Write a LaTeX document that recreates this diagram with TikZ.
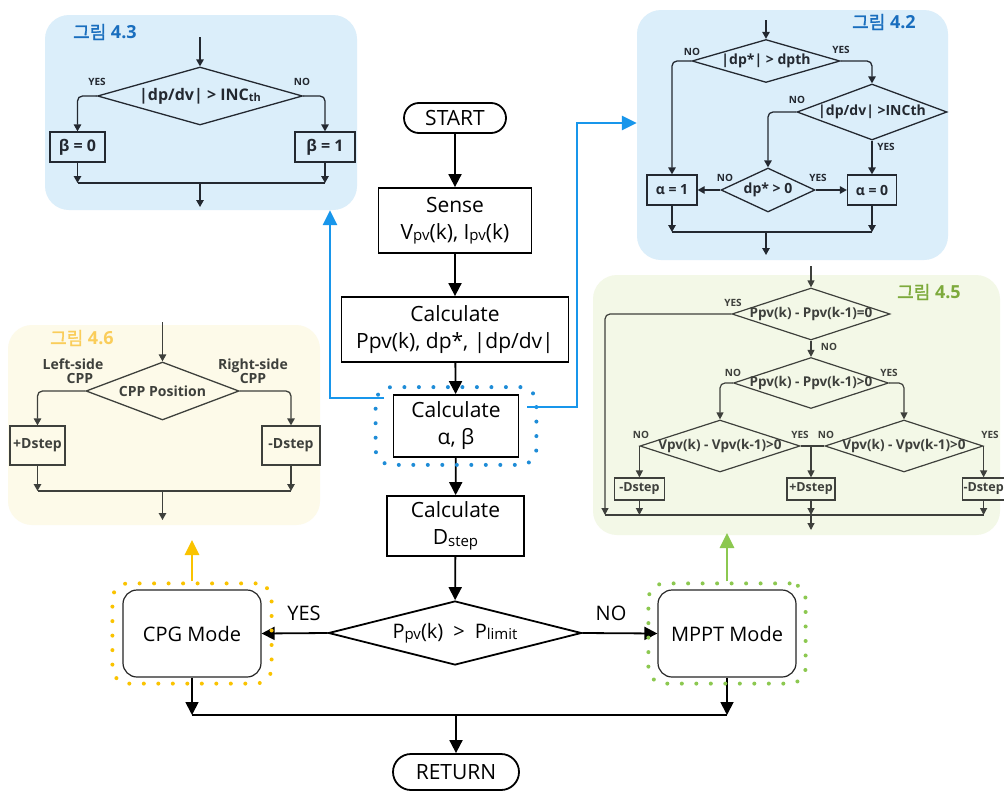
\documentclass[tikz,border=0pt]{standalone}
\usepackage{fontspec}
\setmainfont{Open Sans}
\newfontfamily\krfont[AutoFakeBold=1.6]{Noto Sans CJK KR}
\usetikzlibrary{shapes.geometric,arrows.meta,fit}

\definecolor{panelblue}{RGB}{219,238,250}
\definecolor{panelgreen}{RGB}{243,248,231}
\definecolor{panelcream}{RGB}{253,250,233}
\definecolor{linkblue}{RGB}{24,150,235}
\definecolor{titleblue}{RGB}{25,110,190}
\definecolor{titlegreen}{RGB}{125,170,60}
\definecolor{titleyellow}{RGB}{250,205,90}
\definecolor{dotyellow}{RGB}{250,195,0}
\definecolor{dotgreen}{RGB}{140,200,80}
\definecolor{dotblue}{RGB}{30,140,215}
\definecolor{ink}{RGB}{35,40,48}
\definecolor{inkgray}{RGB}{62,64,60}

% smaller lowered text for variable subscripts
\newcommand\mainsub[1]{\raisebox{-1.5pt}{\fontsize{15}{15}\selectfont #1}}
\newcommand\panelsub[1]{\raisebox{-1pt}{\fontsize{11}{11}\selectfont #1}}

\begin{document}
\begin{tikzpicture}[x=1pt,y=-1pt,
  mainbox/.style={draw=black, line width=1.8pt, fill=white, inner sep=0pt, align=center, font=\fontsize{21}{27}\selectfont},
  term/.style={mainbox, rounded corners=15pt, minimum height=30pt},
  modebox/.style={draw=black!85, line width=1.2pt, fill=white, rounded corners=14pt, minimum width=138pt, minimum height=87pt, inner sep=0pt, font=\fontsize{20}{24}\selectfont},
  maindiam/.style={diamond, draw=black, line width=1.8pt, fill=white, inner sep=0pt},
  mainlbl/.style={font=\fontsize{20}{24}\selectfont, inner sep=0pt},
  mainflow/.style={line width=1.8pt, -{Triangle[length=13pt,width=13pt]}},
  mainseg/.style={line width=1.8pt},
  ring/.style={line width=4pt, line cap=round, dash pattern=on 0pt off 14.5pt, rounded corners=16pt},
  link/.style={line width=2.8pt, -{Triangle[length=15pt,width=14pt]}},
  panel/.style={rounded corners=24pt, inner sep=0pt},
  title/.style={anchor=west, inner sep=0pt, font=\fontsize{18}{21}\selectfont},
  pline/.style={draw=ink, line width=1.3pt, rounded corners=5pt},
  pflow/.style={pline, -{Triangle[length=7pt,width=7.5pt]}},
  pbox/.style={draw=ink, line width=1.3pt, inner sep=0pt, text=ink, font=\bfseries\fontsize{14}{16}\selectfont},
  pdiam/.style={diamond, draw=ink, line width=1.3pt, inner sep=0pt},
  ptext/.style={inner sep=0pt, text=ink, font=\bfseries\fontsize{14}{16}\selectfont},
  ptag/.style={inner sep=0pt, text=ink, font=\bfseries\fontsize{10}{12}\selectfont},
  gline/.style={draw=inkgray, line width=1.2pt, rounded corners=5pt},
  gflow/.style={gline, -{Triangle[length=7pt,width=7pt]}},
  gbox/.style={draw=inkgray, line width=1.2pt, inner sep=0pt, text=inkgray, font=\bfseries\fontsize{12.5}{14}\selectfont},
  gdiam/.style={diamond, draw=inkgray, line width=1.2pt, inner sep=0pt},
  gtext/.style={inner sep=0pt, text=inkgray, font=\bfseries\fontsize{13.5}{15}\selectfont},
  gtag/.style={inner sep=0pt, text=inkgray, font=\bfseries\fontsize{10}{12}\selectfont},
]
\fill[white] (0,0) rectangle (1004,795);
\useasboundingbox (0,0) rectangle (1004,795);

% ---------- background panels ----------
\node[panel, fill=panelblue,  minimum width=312pt, minimum height=195pt] (p43) at (201,112.5) {};
\node[panel, fill=panelblue,  minimum width=311pt, minimum height=250pt] (p42) at (792.5,135) {};
\node[panel, fill=panelgreen, minimum width=407pt, minimum height=260pt] (p45) at (796.5,405) {};
\node[panel, fill=panelcream, minimum width=312pt, minimum height=200pt] (p46) at (164,425) {};

\node[title, text=titleblue]   (t43) at (73,32)   {{\krfont\bfseries 그림} \textbf{4.3}};
\node[title, text=titleblue]   (t42) at (852,22)  {{\krfont\bfseries 그림} \textbf{4.2}};
\node[title, text=titlegreen]  (t45) at (897,292) {{\krfont\bfseries 그림} \textbf{4.5}};
\node[title, text=titleyellow] (t46) at (50,338)  {{\krfont\bfseries 그림} \textbf{4.6}};

% ---------- panel 4.3: beta ----------
\node[pdiam, minimum width=205pt, minimum height=58pt] (d43) at (200,96) {};
\node[ptext, font=\bfseries\fontsize{16}{18}\selectfont] (d43t) at (d43) {|dp/dv| > INC\panelsub{th}};
\node[pbox, font=\bfseries\fontsize{16}{18}\selectfont, minimum width=55pt, minimum height=30pt] (b43y) at (77.5,147) {β = 0};
\node[pbox, font=\bfseries\fontsize{16}{18}\selectfont, minimum width=60pt, minimum height=30pt] (b43n) at (325,147) {β = 1};
\coordinate (i43) at (200,37);
\coordinate (m43) at (200,183);
\coordinate (o43) at (200,207);
\draw[pflow] (i43) -- (d43.north);
\draw[pflow] (d43.west) -| (b43y.north);
\draw[pflow] (d43.east) -| (b43n.north);
\draw[pflow] (b43y.south) -- (b43y.south |- m43);
\draw[pflow] (b43n.south) -- (b43n.south |- m43);
\draw[pline] (b43y.south |- m43) -- (b43n.south |- m43);
\draw[pflow] (m43) -- (o43);
\node[ptag] (y43) at (97,82) {YES};
\node[ptag] (n43) at (302,82) {NO};

% ---------- panel 4.2: alpha ----------
\node[pdiam, minimum width=148pt, minimum height=43pt] (d421) at (766,61) {};
\node[ptext] (d421t) at (d421) {|dp*| > dpth};
\node[pdiam, minimum width=150pt, minimum height=56pt] (d422) at (872,112) {};
\node[ptext] (d422t) at (d422) {|dp/dv| >INCth};
\node[pdiam, minimum width=94pt, minimum height=44pt] (d423) at (768,190) {};
\node[ptext] (d423t) at (d423) {dp* > 0};
\node[pbox, minimum width=50pt, minimum height=30pt] (a1) at (672,190) {α = 1};
\node[pbox, minimum width=49pt, minimum height=30pt] (a0) at (872,190) {α = 0};
\coordinate (i42) at (766,20);
\coordinate (m42) at (766,232);
\coordinate (o42) at (766,255);
\draw[pflow] (i42) -- (d421.north);
\draw[pflow] (d421.west) -| (a1.north);
\draw[pflow] (d421.east) -| (d422.north);
\draw[pflow] (d422.west) -| (d423.north);
\draw[pflow] (d422.south) -- (a0.north);
\draw[pflow] (d423.west) -- (a1.east);
\draw[pflow] (d423.east) -- (a0.west);
\draw[pflow] (a1.south) -- (a1.south |- m42);
\draw[pflow] (a0.south) -- (a0.south |- m42);
\draw[pline] (a1.south |- m42) -- (a0.south |- m42);
\draw[pflow] (m42) -- (o42);
\node[ptag] (n421) at (692,52) {NO};
\node[ptag] (y421) at (841,50) {YES};
\node[ptag] (n422) at (797,100) {NO};
\node[ptag] (y422) at (886,147) {YES};
\node[ptag] (n423) at (725,178) {NO};
\node[ptag] (y423) at (818,178) {YES};

% ---------- panel 4.5: MPPT ----------
\node[gdiam, minimum width=158pt, minimum height=52pt] (dA) at (811,314) {};
\node[gtext] (dAt) at (dA) {Ppv(k) - Ppv(k-1)=0};
\node[gdiam, minimum width=155pt, minimum height=51pt] (dB) at (811,383) {};
\node[gtext] (dBt) at (dB) {Ppv(k) - Ppv(k-1)>0};
\node[gdiam, minimum width=160pt, minimum height=52pt] (dC) at (720,446) {};
\node[gtext] (dCt) at (dC) {Vpv(k) - Vpv(k-1)>0};
\node[gdiam, minimum width=158pt, minimum height=52pt] (dD) at (904,446) {};
\node[gtext] (dDt) at (dD) {Vpv(k) - Vpv(k-1)>0};
\node[gbox, minimum width=50pt, minimum height=22pt] (bm1) at (dC.west |- 0,489) {-Dstep};
\node[gbox, minimum width=48pt, minimum height=22pt] (bp)  at (811,489) {+Dstep};
\node[gbox, minimum width=42pt, minimum height=22pt] (bm2) at (dD.east |- 0,489) {-Dstep};
\coordinate (i45) at (811,266);
\coordinate (yA) at (605,515);
\coordinate (cd) at (bp.north |- dC.east);
\coordinate (m45) at (811,515);
\coordinate (o45) at (811,530);
\draw[gflow] (i45) -- (dA.north);
\draw[gflow] (dA.west) -| (yA);
\draw[gflow] (dA.south) -- (dB.north);
\draw[gflow] (dB.west) -| (dC.north);
\draw[gflow] (dB.east) -| (dD.north);
\draw[gflow] (dC.west) -- (bm1.north);
\draw[gflow] (dD.east) -- (bm2.north);
\draw[gline] (dC.east) -- (dD.west);
\draw[gflow] (cd) -- (bp.north);
\draw[gflow] (bm1.south) -- (bm1.south |- m45);
\draw[gflow] (bp.south) -- (m45);
\draw[gflow] (bm2.south) -- (bm2.south |- m45);
\draw[gline] (yA) -- (bm2.south |- m45);
\draw[gflow] (m45) -- (o45);
\node[gtag] (yAt) at (733,303) {YES};
\node[gtag] (nAt) at (829,347) {NO};
\node[gtag] (nBt) at (733,373) {NO};
\node[gtag] (yBt) at (889,373) {YES};
\node[gtag] (nCt) at (641,435) {NO};
\node[gtag] (yCt) at (800,435) {YES};
\node[gtag] (nDt) at (826,435) {NO};
\node[gtag] (yDt) at (990,435) {YES};

% ---------- panel 4.6: CPG ----------
\node[pdiam, draw=inkgray, minimum width=153pt, minimum height=58pt] (d46) at (162.5,391) {};
\node[ptext, text=inkgray] (d46t) at (d46) {CPP Position};
\node[pbox, draw=inkgray, text=inkgray, minimum width=55pt, minimum height=39pt] (bpl) at (37.5,445.5) {+Dstep};
\node[pbox, draw=inkgray, text=inkgray, minimum width=58pt, minimum height=39pt] (bmi) at (291,445.5) {-Dstep};
\coordinate (i46) at (162.5,322);
\coordinate (m46) at (162.5,491);
\coordinate (o46) at (162.5,520);
\draw[pflow, draw=inkgray] (i46) -- (d46.north);
\draw[pflow, draw=inkgray] (d46.west) -| (bpl.north);
\draw[pflow, draw=inkgray] (d46.east) -| (bmi.north);
\draw[pflow, draw=inkgray] (bpl.south) -- (bpl.south |- m46);
\draw[pflow, draw=inkgray] (bmi.south) -- (bmi.south |- m46);
\draw[pline, draw=inkgray] (bpl.south |- m46) -- (bmi.south |- m46);
\draw[pflow, draw=inkgray] (m46) -- (o46);
\node[ptext, text=inkgray, align=center] (l46) at (73,371) {Left-side\\[-2pt]\hspace*{14pt}CPP};
\node[ptext, text=inkgray, align=center] (r46) at (253,371) {Right-side\\[-2pt]CPP};

% ---------- main flow ----------
\node[term, minimum width=102pt] (start) at (455,118) {START};
\node[mainbox, minimum width=153pt, minimum height=65pt] (sense) at (455,220.5) {Sense\\V\mainsub{pv}(k), I\mainsub{pv}(k)};
\node[mainbox, minimum width=227pt, minimum height=65pt] (calcp) at (455,329.5) {Calculate\\Ppv(k), dp*, |dp/dv|};
\node[mainbox, minimum width=125pt, minimum height=62pt] (calcab) at (456,426) {Calculate\\α, β};
\node[mainbox, minimum width=137pt, minimum height=60pt] (calcd) at (455.5,526) {Calculate\\D\mainsub{step}};
\node[maindiam, minimum width=253pt, minimum height=64pt] (dec) at (455,633) {};
\node[mainlbl] (dect) at (dec) {P\mainsub{pv}(k)\enspace>\enspace P\mainsub{limit}};
\node[modebox] (cpg)  at (192,633.5) {CPG Mode};
\node[modebox] (mppt) at (727,633.5) {MPPT Mode};
\node[term, minimum width=126pt, minimum height=36pt, rounded corners=18pt] (ret) at (456,772) {RETURN};

\draw[mainflow] (start) -- (sense);
\draw[mainflow] (sense) -- (calcp);
\draw[mainflow] (calcp) -- (calcab);
\draw[mainflow] (calcab) -- (calcd);
\draw[mainflow] (calcd) -- (dec);
\draw[mainflow] (dec.west) -- (cpg.east);
\draw[mainflow] (dec.east) -- (mppt.west);
\coordinate (join) at (456,715);
\draw[mainflow] (cpg.south) -- (cpg.south |- join);
\draw[mainflow] (mppt.south) -- (mppt.south |- join);
\draw[mainseg] (cpg.south |- join) -- (mppt.south |- join);
\draw[mainflow] (join) -- (ret);
\node[mainlbl] (yesl) at (304,613) {YES};
\node[mainlbl] (nol)  at (611,613) {NO};

% dotted highlight rings
\node[ring, draw=dotblue, fit=(calcab), inner xsep=17pt, inner ysep=7pt] (abring) {};
\node[ring, draw=dotyellow, fit=(cpg), inner xsep=10pt, inner ysep=6pt] (cpgring) {};
\node[ring, draw=dotgreen, fit=(mppt), inner xsep=9pt, inner ysep=6pt] (mpptring) {};

% links from the highlighted steps to their detail panels
\coordinate (lk1) at (384,398);
\coordinate (lk2) at (527,407);
\draw[link, draw=linkblue] (lk1) -| (330,0 |- p43.south);
\draw[link, draw=linkblue] (lk2) -- (577,407) |- (p42.west |- 0,123);
\coordinate (ty) at (cpgring.north |- 0,540);
\coordinate (tg) at (mpptring.north |- 0,533);
\draw[link, draw=dotyellow] (cpgring.north) -- (ty);
\draw[link, draw=dotgreen] (mpptring.north) -- (tg);
\end{tikzpicture}
\end{document}
